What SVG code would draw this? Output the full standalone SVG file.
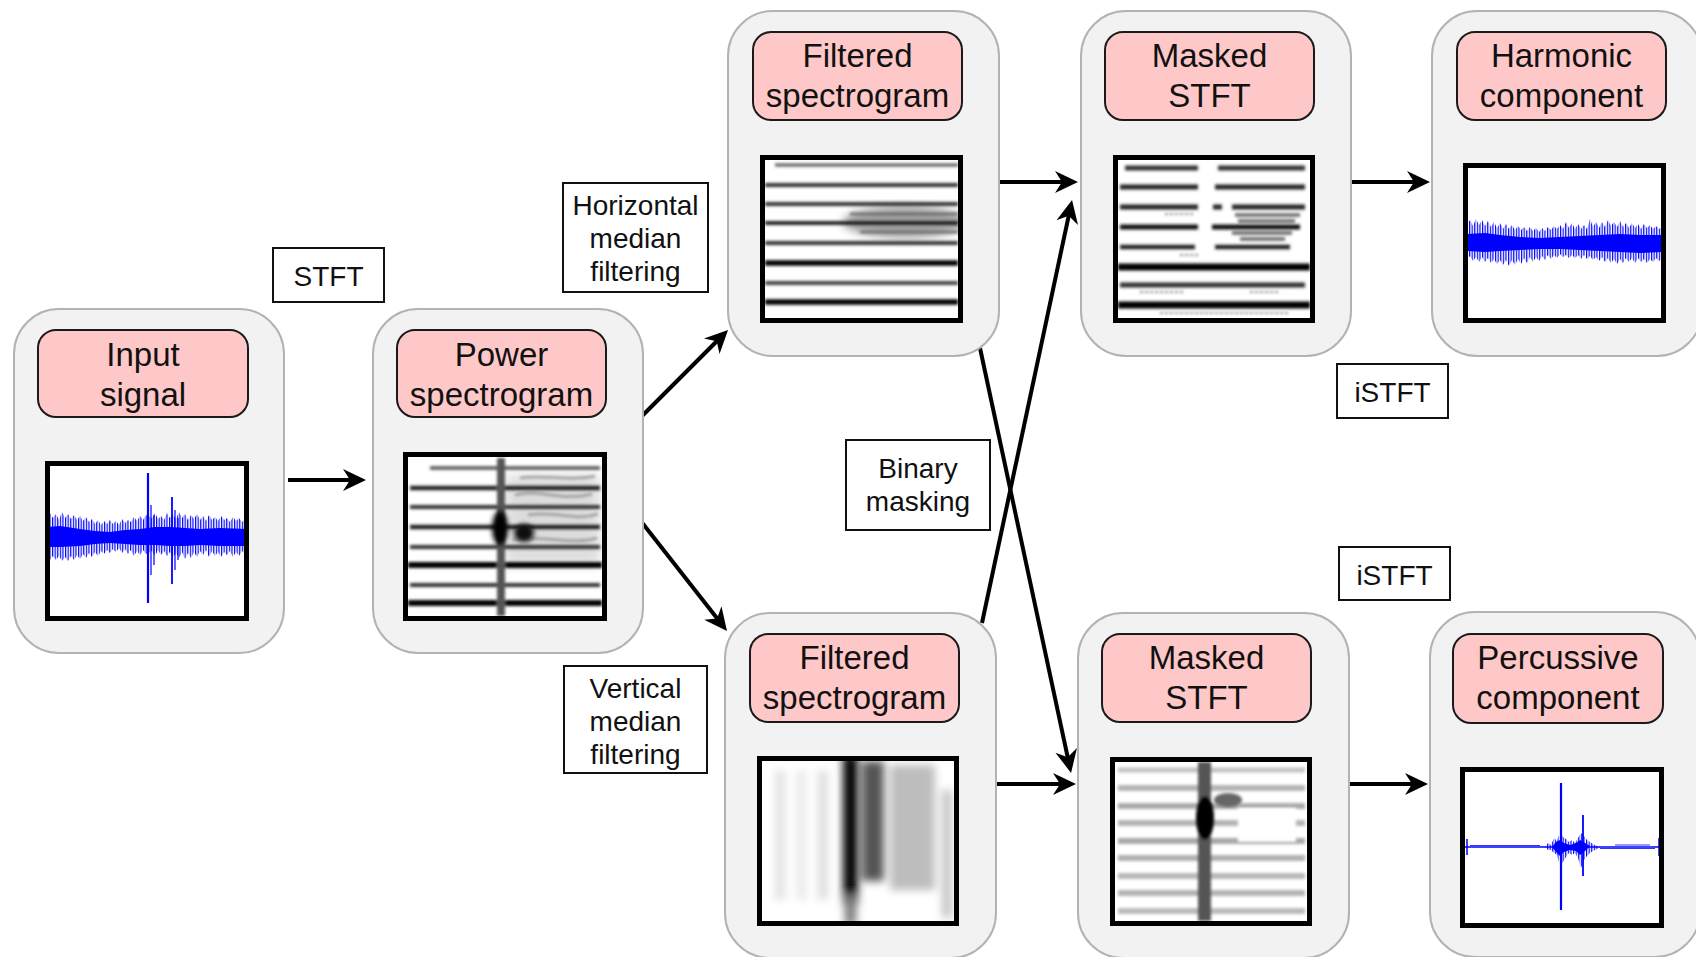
<svg xmlns="http://www.w3.org/2000/svg" width="1696" height="957" viewBox="0 0 1696 957">
<style>
.box{fill:#f2f2f2;stroke:#b3b3b3;stroke-width:2}
.lbl{fill:#ffc8c8;stroke:#1a1a1a;stroke-width:2}
.plot{fill:none;stroke:#000;stroke-width:5}
.bg{fill:#fff}
.t{font-family:"Liberation Sans",Arial,sans-serif;font-size:33px;text-anchor:middle;fill:#111}
.e{font-family:"Liberation Sans",Arial,sans-serif;font-size:28px;text-anchor:middle;fill:#111}
.eb{fill:#fff;stroke:#111;stroke-width:2}
.c{stroke:#000;stroke-width:4;fill:none;marker-end:url(#ah)}
.wv{fill:url(#osc)}
.wc{fill:#0000ff}
.ws{stroke:#0000ff;fill:none}
</style>
<defs>
<marker id="ah" markerUnits="userSpaceOnUse" markerWidth="40" markerHeight="40" viewBox="-30 -20 40 40" refX="0" refY="0" orient="auto" overflow="visible">
<path d="M5,0 L-18,-11 L-11,0 L-18,11 Z" fill="#000"/>
</marker>
<pattern id="osc" width="2.6" height="20" patternUnits="userSpaceOnUse"><rect width="1.2" height="20" fill="#0000ff"/></pattern>
<filter id="b1" x="-10%" y="-20%" width="120%" height="140%"><feGaussianBlur stdDeviation="1.7"/></filter>
<filter id="b2" x="-20%" y="-20%" width="140%" height="140%"><feGaussianBlur stdDeviation="2.5"/></filter>
<filter id="b3" x="-20%" y="-20%" width="140%" height="140%"><feGaussianBlur stdDeviation="4.5"/></filter>
<filter id="b6" x="-30%" y="-30%" width="160%" height="160%"><feGaussianBlur stdDeviation="6"/></filter>
<clipPath id="cpP"><rect x="408" y="457" width="194" height="159"/></clipPath>
<clipPath id="cpFT"><rect x="765" y="160" width="193" height="158"/></clipPath>
<clipPath id="cpMT"><rect x="1118" y="160" width="192" height="158"/></clipPath>
<clipPath id="cpFB"><rect x="762" y="761" width="192" height="160"/></clipPath>
<clipPath id="cpMB"><rect x="1115" y="762" width="192" height="159"/></clipPath>
</defs>

<g id="connectors">
<line class="c" x1="288" y1="480" x2="361" y2="480"/>
<line class="c" x1="640" y1="418" x2="724.5" y2="333.5"/>
<line class="c" x1="640" y1="520" x2="723.9" y2="627.1"/>
<line class="c" x1="1000" y1="182" x2="1073" y2="182"/>
<line class="c" x1="1352" y1="182" x2="1425" y2="182"/>
<line class="c" x1="997" y1="784" x2="1071" y2="784"/>
<line class="c" x1="1350" y1="784" x2="1423" y2="784"/>
<line class="c" x1="980" y1="348" x2="1070" y2="768"/>
<line class="c" x1="982" y1="623" x2="1071" y2="205"/>
</g>

<g id="input-signal">
<rect class="box" x="14" y="309" width="270" height="344" rx="45"/>
<rect class="lbl" x="38" y="330" width="210" height="87" rx="18"/>
<text class="t" x="143" y="366">Input</text>
<text class="t" x="143" y="406">signal</text>
<rect class="bg" x="47.5" y="463.5" width="199" height="155"/>
<polygon class="wv" points="47,519 50,513 53,518 56,514 59,520 62,512 65,518 68,514 71,519 74,515 77,520 80,516 83,521 86,517 89,522 92,519 95,524 98,520 101,525 104,521 107,524 110,520 113,524 116,521 119,525 122,519 125,523 128,520 131,522 134,517 137,521 140,516 143,520 146,515 152,518 155,513 158,519 161,516 164,520 167,513 170,518 173,514 176,519 179,512 182,518 185,514 188,520 191,515 194,519 197,514 200,520 203,516 206,521 209,515 212,520 215,517 218,521 221,516 224,520 227,518 230,522 233,517 236,521 239,518 242,522 245,519 247,521 247,553 245,554 242,551 239,556 236,552 233,557 230,551 227,555 224,552 221,557 218,552 215,556 212,551 209,557 206,550 203,555 200,551 197,557 194,552 191,558 188,553 185,559 182,552 179,558 176,553 173,557 170,552 167,556 164,551 161,555 158,550 155,556 152,551 146,554 143,550 140,555 137,551 134,556 131,550 128,554 125,549 122,553 119,548 116,552 113,549 110,553 107,550 104,554 101,551 98,556 95,552 92,557 89,553 86,558 83,554 80,559 77,555 74,560 71,556 68,561 65,557 62,561 59,556 56,560 53,556 50,560 47,556"/>
<polygon class="wc" points="47,527 60,526 80,529 95,531 110,532 125,530 140,529 155,527 170,527 185,528 200,529 220,528 247,529 247,546 220,546 200,545 185,546 170,546 155,545 140,545 125,544 110,543 95,544 80,546 60,547 47,547"/>
<path class="ws" stroke-width="2.2" d="M148,473 V603"/>
<path class="ws" stroke-width="1.8" d="M172,497 V584"/>
<path class="ws" stroke-width="1.2" d="M151,505 V575 M154,515 V565 M175,510 V570 M178,518 V560"/>
<rect class="plot" x="47.5" y="463.5" width="199" height="155"/>
</g>

<g id="power-spectrogram">
<rect class="box" x="373" y="309" width="270" height="344" rx="45"/>
<rect class="lbl" x="397" y="330" width="209" height="87" rx="18"/>
<text class="t" x="501.5" y="366">Power</text>
<text class="t" x="501.5" y="406">spectrogram</text>
<rect class="bg" x="405.5" y="454.5" width="199" height="164"/>
<g clip-path="url(#cpP)">
<rect x="505" y="475" width="95" height="90" fill="#bbb" opacity="0.5" filter="url(#b6)"/>
<g filter="url(#b1)" fill="none">
<path d="M430,468 H600" stroke="#555" stroke-width="3.5"/>
<path d="M410,488 H600" stroke="#222" stroke-width="4.5"/>
<path d="M410,507 H600" stroke="#333" stroke-width="4"/>
<path d="M410,527 H600" stroke="#222" stroke-width="4.5"/>
<path d="M410,547 H600" stroke="#333" stroke-width="4"/>
<path d="M408,565 H602" stroke="#000" stroke-width="6"/>
<path d="M410,585 H600" stroke="#333" stroke-width="4"/>
<path d="M408,603 H602" stroke="#000" stroke-width="6"/>
<path d="M501,458 V616" stroke="#555" stroke-width="8"/>
<path d="M515,495 C540,488 560,502 592,494 M528,515 C555,510 575,522 598,514 M512,540 C540,534 570,546 597,538 M520,478 C545,474 570,482 595,476" stroke="#999" stroke-width="2.5"/>
</g>
<g filter="url(#b2)">
<ellipse cx="500" cy="528" rx="8" ry="17" fill="#000"/>
<ellipse cx="524" cy="533" rx="10" ry="9" fill="#111"/>
</g>
</g>
<rect class="plot" x="405.5" y="454.5" width="199" height="164"/>
</g>

<g id="filtered-h">
<rect class="box" x="728" y="11" width="271" height="345" rx="45"/>
<rect class="lbl" x="753" y="32" width="209" height="88" rx="18"/>
<text class="t" x="857.5" y="67">Filtered</text>
<text class="t" x="857.5" y="107">spectrogram</text>
<rect class="bg" x="762.5" y="157.5" width="198" height="163"/>
<g clip-path="url(#cpFT)">
<ellipse cx="905" cy="222" rx="62" ry="16" fill="#777" opacity="0.7" filter="url(#b3)"/>
<g filter="url(#b1)" fill="none">
<path d="M775,165 H958" stroke="#555" stroke-width="3"/>
<path d="M765,185 H958" stroke="#333" stroke-width="4"/>
<path d="M765,204 H958" stroke="#333" stroke-width="4"/>
<path d="M765,223 H958" stroke="#222" stroke-width="4"/>
<path d="M765,243 H958" stroke="#333" stroke-width="4"/>
<path d="M765,263 H958" stroke="#000" stroke-width="5.5"/>
<path d="M765,283 H958" stroke="#444" stroke-width="4"/>
<path d="M765,302 H958" stroke="#000" stroke-width="5.5"/>
<path d="M850,214 H958 M860,232 H958" stroke="#666" stroke-width="2.5"/>
</g>
</g>
<rect class="plot" x="762.5" y="157.5" width="198" height="163"/>
</g>

<g id="masked-h">
<rect class="box" x="1081" y="11" width="270" height="345" rx="45"/>
<rect class="lbl" x="1105" y="32" width="209" height="88" rx="18"/>
<text class="t" x="1209.5" y="67">Masked</text>
<text class="t" x="1209.5" y="107">STFT</text>
<rect class="bg" x="1115.5" y="157.5" width="197" height="163"/>
<g clip-path="url(#cpMT)">
<g filter="url(#b1)" fill="none">
<path d="M1125,168 H1198 M1218,168 H1305" stroke="#333" stroke-width="5"/>
<path d="M1120,187 H1198 M1215,187 H1305" stroke="#222" stroke-width="5"/>
<path d="M1120,207 H1198 M1213,207 H1222 M1232,207 H1305" stroke="#222" stroke-width="5"/>
<path d="M1120,227 H1198 M1212,227 H1300" stroke="#111" stroke-width="5"/>
<path d="M1120,247 H1195 M1215,247 H1290" stroke="#222" stroke-width="4.5"/>
<path d="M1118,267 H1310" stroke="#000" stroke-width="7"/>
<path d="M1120,285 H1305" stroke="#333" stroke-width="5"/>
<path d="M1118,305 H1310" stroke="#000" stroke-width="7"/>
<path d="M1235,215 H1300 M1238,221 H1295 M1232,233 H1292 M1240,239 H1285" stroke="#666" stroke-width="3.5"/>
<path d="M1165,214 H1195 M1140,292 H1185 M1250,292 H1280 M1160,313 H1290 M1180,255 H1200" stroke="#888" stroke-width="2" stroke-dasharray="3 2"/>
</g>
</g>
<rect class="plot" x="1115.5" y="157.5" width="197" height="163"/>
</g>

<g id="harmonic-component">
<rect class="box" x="1432" y="11" width="270" height="345" rx="45"/>
<rect class="lbl" x="1457" y="32" width="209" height="88" rx="18"/>
<text class="t" x="1561.5" y="67">Harmonic</text>
<text class="t" x="1561.5" y="107">component</text>
<rect class="bg" x="1465.5" y="165.5" width="198" height="155"/>
<polygon class="wv" points="1467,225 1470,220 1473,226 1476,219 1479,225 1482,220 1485,226 1488,221 1491,227 1494,222 1497,228 1500,223 1503,229 1506,224 1509,229 1512,225 1515,230 1518,226 1521,230 1524,227 1527,231 1530,227 1533,231 1536,228 1539,232 1542,228 1545,231 1548,227 1551,230 1554,226 1557,229 1560,225 1563,229 1566,222 1569,228 1572,223 1575,229 1578,224 1581,229 1584,225 1587,229 1590,219 1593,227 1596,222 1599,228 1602,222 1605,227 1608,220 1611,226 1614,222 1617,227 1620,221 1623,227 1626,223 1629,228 1632,223 1635,228 1638,224 1641,229 1644,224 1647,228 1650,225 1653,229 1656,226 1659,229 1662,227 1662,259 1659,261 1656,258 1653,262 1650,259 1647,263 1644,259 1641,262 1638,258 1635,263 1632,258 1629,262 1626,258 1623,263 1620,259 1617,264 1614,259 1611,263 1608,258 1605,262 1602,257 1599,261 1596,257 1593,260 1590,256 1587,259 1584,255 1581,259 1578,255 1575,258 1572,255 1569,258 1566,255 1563,257 1560,254 1557,258 1554,255 1551,259 1548,255 1545,260 1542,256 1539,261 1536,257 1533,262 1530,257 1527,263 1524,258 1521,264 1518,259 1515,265 1512,260 1509,266 1506,260 1503,265 1500,260 1497,264 1494,259 1491,263 1488,258 1485,262 1482,257 1479,262 1476,257 1473,261 1470,256 1467,260"/>
<polygon class="wc" points="1467,234 1485,233 1500,235 1520,237 1540,238 1560,237 1580,236 1600,235 1620,234 1640,235 1662,235 1662,252 1640,253 1620,252 1600,251 1580,250 1560,249 1540,249 1520,250 1500,251 1485,252 1467,251"/>
<rect class="plot" x="1465.5" y="165.5" width="198" height="155"/>
</g>

<g id="filtered-v">
<rect class="box" x="725" y="613" width="271" height="345" rx="45"/>
<rect class="lbl" x="750" y="634" width="209" height="88" rx="18"/>
<text class="t" x="854.5" y="669">Filtered</text>
<text class="t" x="854.5" y="709">spectrogram</text>
<rect class="bg" x="759.5" y="758.5" width="197" height="165"/>
<g clip-path="url(#cpFB)">
<g filter="url(#b3)">
<rect x="890" y="765" width="45" height="125" fill="#bdbdbd"/>
<rect x="775" y="770" width="10" height="130" fill="#e2e2e2"/>
<rect x="797" y="770" width="9" height="130" fill="#e8e8e8"/>
<rect x="818" y="770" width="10" height="130" fill="#dedede"/>
<rect x="942" y="790" width="10" height="128" fill="#c4c4c4"/>
<rect x="862" y="761" width="22" height="120" fill="#555"/>
<rect x="843" y="755" width="15" height="150" fill="#000"/>
<rect x="845" y="895" width="11" height="30" fill="#777"/>
</g>
</g>
<rect class="plot" x="759.5" y="758.5" width="197" height="165"/>
</g>

<g id="masked-v">
<rect class="box" x="1078" y="613" width="271" height="345" rx="45"/>
<rect class="lbl" x="1102" y="634" width="209" height="88" rx="18"/>
<text class="t" x="1206.5" y="669">Masked</text>
<text class="t" x="1206.5" y="709">STFT</text>
<rect class="bg" x="1112.5" y="759.5" width="197" height="164"/>
<g clip-path="url(#cpMB)">
<g filter="url(#b1)" fill="none">
<path d="M1118,770 H1305" stroke="#c4c4c4" stroke-width="5"/>
<path d="M1118,788 H1305" stroke="#b4b4b4" stroke-width="6"/>
<path d="M1118,806 H1305" stroke="#aaa" stroke-width="6"/>
<path d="M1118,823 H1305" stroke="#b4b4b4" stroke-width="6"/>
<path d="M1118,841 H1305" stroke="#a8a8a8" stroke-width="6"/>
<path d="M1118,858 H1305" stroke="#b0b0b0" stroke-width="6"/>
<path d="M1118,876 H1305" stroke="#b8b8b8" stroke-width="6"/>
<path d="M1118,893 H1305" stroke="#b4b4b4" stroke-width="6"/>
<path d="M1118,911 H1305" stroke="#bbb" stroke-width="6"/>
</g>
<g filter="url(#b1)">
<rect x="1198" y="762" width="13" height="159" fill="#555"/>
<ellipse cx="1205" cy="818" rx="9" ry="22" fill="#000"/>
<ellipse cx="1228" cy="800" rx="14" ry="7" fill="#666"/>
<rect x="1238" y="808" width="58" height="34" fill="#fff"/>
</g>
</g>
<rect class="plot" x="1112.5" y="759.5" width="197" height="164"/>
</g>

<g id="percussive-component">
<rect class="box" x="1430" y="612" width="270" height="345" rx="45"/>
<rect class="lbl" x="1453" y="634" width="210" height="89" rx="18"/>
<text class="t" x="1558" y="669">Percussive</text>
<text class="t" x="1558" y="709">component</text>
<rect class="bg" x="1462.5" y="769.5" width="199" height="156"/>
<path class="ws" stroke-width="1.5" d="M1464,847 H1661"/>
<path class="ws" stroke-width="0.8" d="M1470,845.5 H1540 M1600,848.5 H1655 M1615,845 H1650"/>
<polygon class="wv" points="1545,847 1548,843 1551,845 1554,838 1557,841 1560,832 1563,837 1566,839 1569,842 1572,840 1575,843 1578,838 1581,833 1584,836 1587,840 1590,842 1593,844 1597,846 1600,847 1597,849 1593,851 1590,853 1587,856 1584,860 1581,868 1578,858 1575,853 1572,855 1569,853 1566,857 1563,862 1560,866 1557,855 1554,853 1551,850 1548,850"/>
<polygon class="wc" points="1552,847 1556,842 1560,840 1564,843 1570,845 1576,843 1580,840 1585,843 1590,846 1585,851 1580,855 1576,851 1570,850 1564,852 1560,856 1556,852"/>
<path class="ws" stroke-width="2.2" d="M1561,783 V910"/>
<path class="ws" stroke-width="1.8" d="M1583,815 V876"/>
<path class="ws" stroke-width="1.5" d="M1467,839 V855 M1659,838 V856"/>
<rect class="plot" x="1462.5" y="769.5" width="199" height="156"/>
</g>

<g id="label-stft">
<rect class="eb" x="273" y="248" width="111" height="54"/>
<text class="e" x="328.5" y="286">STFT</text>
</g>
<g id="label-horizontal">
<rect class="eb" x="563" y="183" width="145" height="109"/>
<text class="e" x="635.5" y="215">Horizontal</text>
<text class="e" x="635.5" y="248">median</text>
<text class="e" x="635.5" y="281">filtering</text>
</g>
<g id="label-vertical">
<rect class="eb" x="564" y="666" width="143" height="107"/>
<text class="e" x="635.5" y="698">Vertical</text>
<text class="e" x="635.5" y="731">median</text>
<text class="e" x="635.5" y="764">filtering</text>
</g>
<g id="label-binary">
<rect class="eb" x="846" y="440" width="144" height="90"/>
<text class="e" x="918" y="478">Binary</text>
<text class="e" x="918" y="511">masking</text>
</g>
<g id="label-istft-1">
<rect class="eb" x="1337" y="364" width="111" height="54"/>
<text class="e" x="1392.5" y="402">iSTFT</text>
</g>
<g id="label-istft-2">
<rect class="eb" x="1339" y="547" width="111" height="53"/>
<text class="e" x="1394.5" y="585">iSTFT</text>
</g>
</svg>
